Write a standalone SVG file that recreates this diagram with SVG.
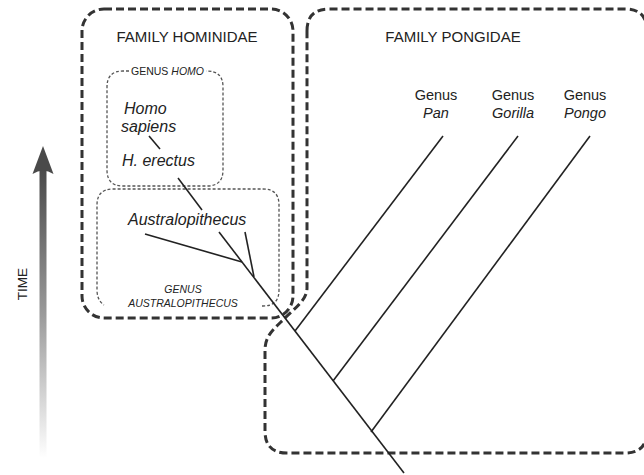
<svg xmlns="http://www.w3.org/2000/svg" width="644" height="475" viewBox="0 0 644 475">
<defs>
<linearGradient id="tg" x1="0" y1="0" x2="0" y2="1">
<stop offset="0" stop-color="#4a4a4a"/>
<stop offset="0.5" stop-color="#9a9a9a"/>
<stop offset="1" stop-color="#ffffff"/>
</linearGradient>
</defs>
<style>
text{font-family:"Liberation Sans",Arial,sans-serif;fill:#222}
.fam{font-size:15px}
.gen{font-size:14.5px}
.sp{font-size:16px;font-style:italic}
.small{font-size:10.5px}
.it{font-style:italic}
.big{fill:none;stroke:#333;stroke-width:3;stroke-dasharray:8 4}
.thin{fill:none;stroke:#555;stroke-width:1.3;stroke-dasharray:3 2}
.br{fill:none;stroke:#222;stroke-width:1.6}
</style>
<rect width="644" height="475" fill="#fff"/>
<g id="time-arrow">
<path d="M39.5,170 L46.5,170 L46.5,458 L39.5,458 Z" fill="url(#tg)"/>
<path d="M43,146 L53.5,174 Q43,167 32.5,174 Z" fill="#4a4a4a"/>
<text transform="translate(27,284) rotate(-90)" text-anchor="middle" style="font-size:13.5px">TIME</text>
</g>
<g id="family-hominidae">
<rect class="big" x="82" y="9" width="211" height="309" rx="22"/>
<text class="fam" x="187" y="42" text-anchor="middle">FAMILY HOMINIDAE</text>
</g>
<g id="family-pongidae">
<path class="big" d="M307,31 Q307,9 329,9 H625 Q647,9 647,31 V431 Q647,453 625,453 H287 Q265,453 265,431 V350 C265,335 275,328 285,318 C295,308 307,300 307,288 Z"/>
<text class="fam" x="453" y="42" text-anchor="middle">FAMILY PONGIDAE</text>
</g>
<g id="genus-homo">
<path class="thin" d="M129,71 H123 Q107,71 107,87 V170 Q107,186 123,186 H207 Q223,186 223,170 V87 Q223,71 207,71 H206"/>
<text class="small" x="167.5" y="75" text-anchor="middle">GENUS <tspan class="it">HOMO</tspan></text>
</g>
<g id="genus-australopithecus">
<path class="thin" d="M262,306 H263 Q279,306 279,290 V205 Q279,189 263,189 H113 Q97,189 97,205 V290 Q97,300 104,305"/>
<text class="small it" x="183" y="293" text-anchor="middle">GENUS</text>
<text class="small it" x="183" y="307" text-anchor="middle">AUSTRALOPITHECUS</text>
</g>
<g id="homo-sapiens"><text class="sp" x="124" y="114">Homo</text><text class="sp" x="121" y="132">sapiens</text></g>
<g id="h-erectus"><text class="sp" x="122" y="166">H. erectus</text></g>
<g id="australopithecus"><text class="sp" x="128" y="225">Australopithecus</text></g>
<g id="genus-pan"><text class="gen" x="436" y="100" text-anchor="middle">Genus</text><text class="gen it" x="436" y="118" text-anchor="middle">Pan</text></g>
<g id="genus-gorilla"><text class="gen" x="513" y="100" text-anchor="middle">Genus</text><text class="gen it" x="513" y="118" text-anchor="middle">Gorilla</text></g>
<g id="genus-pongo"><text class="gen" x="585" y="100" text-anchor="middle">Genus</text><text class="gen it" x="585" y="118" text-anchor="middle">Pongo</text></g>
<g id="connectors">
<line class="br" x1="149" y1="136" x2="160" y2="149"/>
<line class="br" x1="178" y1="178" x2="202" y2="210"/>
<line class="br" x1="219" y1="232" x2="404" y2="473"/>
<line class="br" x1="145" y1="234" x2="242" y2="262"/>
<line class="br" x1="245" y1="232" x2="254" y2="277"/>
<line class="br" x1="295" y1="331" x2="443" y2="136"/>
<line class="br" x1="333" y1="381" x2="518" y2="136"/>
<line class="br" x1="371" y1="432" x2="590" y2="136"/>
</g>
</svg>
